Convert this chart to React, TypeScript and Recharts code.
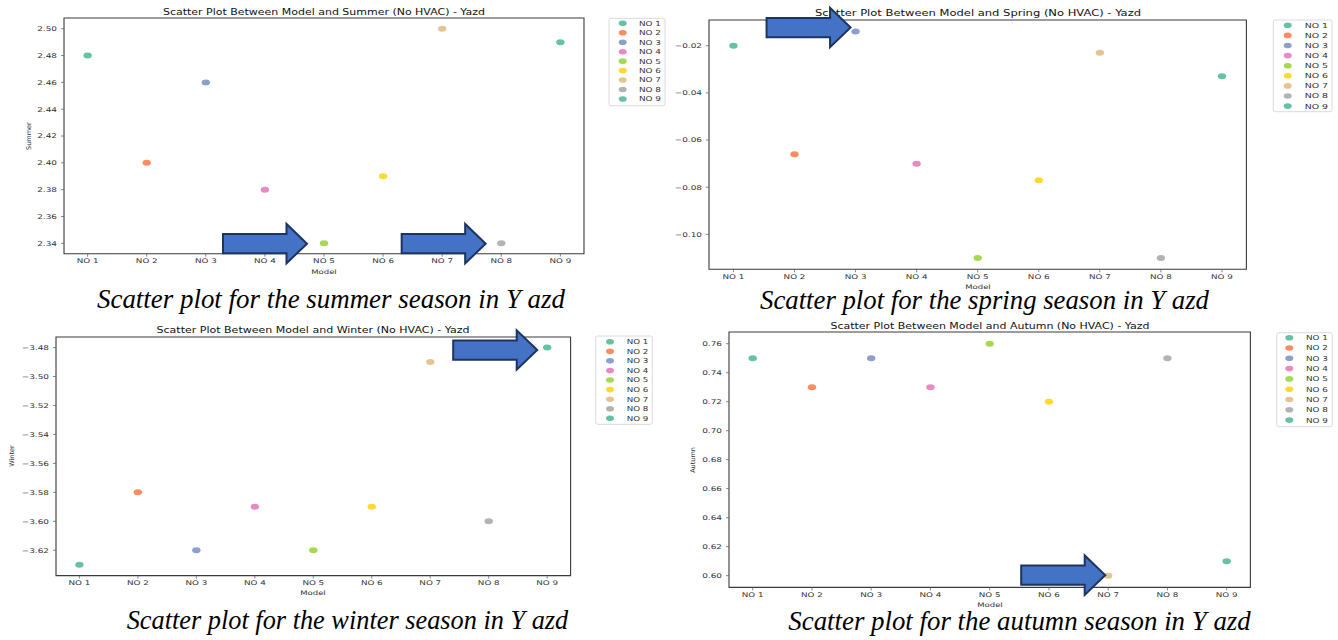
import React from 'react';
import { ScatterChart, Scatter, XAxis, YAxis, ReferenceArea, ReferenceDot } from 'recharts';

// ---------- data ----------
const models = ['NO 1', 'NO 2', 'NO 3', 'NO 4', 'NO 5', 'NO 6', 'NO 7', 'NO 8', 'NO 9'];
const modelIndex = [1, 2, 3, 4, 5, 6, 7, 8, 9];
const colors = ['#66c2a5', '#fc8d62', '#8da0cb', '#e78ac3', '#a6d854', '#ffd92f', '#e5c494', '#b3b3b3', '#66c2a5'];

const summer = [2.48, 2.40, 2.46, 2.38, 2.34, 2.39, 2.50, 2.34, 2.49];
const spring = [-0.020, -0.066, -0.014, -0.070, -0.110, -0.077, -0.023, -0.110, -0.033];
const winter = [-3.63, -3.58, -3.62, -3.59, -3.62, -3.59, -3.49, -3.60, -3.48];
const autumn = [0.75, 0.73, 0.75, 0.73, 0.76, 0.72, 0.60, 0.75, 0.61];

const summerTicks = [2.34, 2.36, 2.38, 2.40, 2.42, 2.44, 2.46, 2.48, 2.50];
const springTicks = [-0.10, -0.08, -0.06, -0.04, -0.02];
const winterTicks = [-3.62, -3.60, -3.58, -3.56, -3.54, -3.52, -3.50, -3.48];
const autumnTicks = [0.60, 0.62, 0.64, 0.66, 0.68, 0.70, 0.72, 0.74, 0.76];

const summerDomain = [2.3323, 2.508];
const springDomain = [-0.1148, -0.0091];
const winterDomain = [-3.6375, -3.4727];
const autumnDomain = [0.5919, 0.7681];

const summerArrows = [5, 8];
const springArrows = [3];
const winterArrows = [9];
const autumnArrows = [7];

// ---------- layout / style ----------
const FONT = 'DejaVu Sans, sans-serif';
const TXT = '#333';

type Layout = {
  L: number; R: number; T: number; B: number;
  yLabelOff: number | null;
  capX0: number; capX1: number; capBase: number;
  titleLen: number;
  leg: { x: number; y: number; w: number; h: number; step: number; first: number; mdx: number; tdx: number; tlen: number };
  arrowOff: { gap: number; dy: number }[];
};

const panels = [
  {
    key: 'summer', values: summer, ticks: summerTicks, domain: summerDomain, arrows: summerArrows,
    title: 'Scatter Plot Between Model and Summer (No HVAC) - Yazd', yLabel: 'Summer',
    caption: 'Scatter plot for the summer season in Y azd',
  },
  {
    key: 'spring', values: spring, ticks: springTicks, domain: springDomain, arrows: springArrows,
    title: 'Scatter Plot Between Model and Spring (No HVAC) - Yazd', yLabel: 'Spring',
    caption: 'Scatter plot for the spring season in Y azd',
  },
  {
    key: 'winter', values: winter, ticks: winterTicks, domain: winterDomain, arrows: winterArrows,
    title: 'Scatter Plot Between Model and Winter (No HVAC) - Yazd', yLabel: 'Winter',
    caption: 'Scatter plot for the winter season in Y azd',
  },
  {
    key: 'autumn', values: autumn, ticks: autumnTicks, domain: autumnDomain, arrows: autumnArrows,
    title: 'Scatter Plot Between Model and Autumn (No HVAC) - Yazd', yLabel: 'Autumn',
    caption: 'Scatter plot for the autumn season in Y azd',
  },
];

const layouts: Layout[] = [
  {
    L: 64, R: 584, T: 18.3, B: 254, yLabelOff: 35,
    capX0: 97, capX1: 565, capBase: 308, titleLen: 322,
    leg: { x: 609, y: 18.3, w: 56, h: 87.4, step: 9.46, first: 5, mdx: 13.7, tdx: 30, tlen: 22 },
    arrowOff: [{ gap: 17, dy: 0.3 }, { gap: 15.6, dy: 0.3 }],
  },
  {
    L: 709.3, R: 1246.7, T: 20, B: 269.3, yLabelOff: null,
    capX0: 760, capX1: 1209, capBase: 308.5, titleLen: 326,
    leg: { x: 1273.3, y: 20, w: 58.7, h: 91.7, step: 10.1, first: 5.3, mdx: 14.4, tdx: 31.4, tlen: 23.4 },
    arrowOff: [{ gap: 5, dy: -4 }],
  },
  {
    L: 55.7, R: 570.3, T: 336.7, B: 575.3, yLabelOff: 43.4,
    capX0: 126.7, capX1: 568.3, capBase: 629, titleLen: 313,
    leg: { x: 595.7, y: 336, w: 56.6, h: 88.3, step: 9.58, first: 5.7, mdx: 14.3, tdx: 31, tlen: 21.6 },
    arrowOff: [{ gap: 10, dy: 2.5 }],
  },
  {
    L: 729.3, R: 1250.7, T: 332.3, B: 587.7, yLabelOff: 36,
    capX0: 788.3, capX1: 1250.7, capBase: 629.5, titleLen: 319,
    leg: { x: 1276.7, y: 332.7, w: 55.6, h: 94, step: 10.3, first: 5, mdx: 12.6, tdx: 29.3, tlen: 22 },
    arrowOff: [{ gap: 3, dy: -0.5 }],
  },
];

const fmt = (v: number) => (v < 0 ? '\u2212' : '') + Math.abs(v).toFixed(2);

const XTick = (p: any) => (
  <text
    transform={`translate(${p.x},${p.y}) scale(1.37,1)`}
    textAnchor="middle"
    dy={5.8}
    fontSize={6.4}
    fontFamily={FONT}
    fill={TXT}
  >
    {models[p.payload.value - 1]}
  </text>
);

const YTick = (p: any) => (
  <text
    transform={`translate(${p.x},${p.y}) scale(1.37,1)`}
    textAnchor="end"
    dy={2.35}
    fontSize={6.5}
    fontFamily={FONT}
    fill={TXT}
  >
    {fmt(p.payload.value)}
  </text>
);

const Arrow = ({ cx, cy, gap, dy }: { cx: number; cy: number; gap: number; dy: number }) => {
  if (cx == null || cy == null) return null;
  const tx = cx - gap;
  const y = cy + dy;
  const len = 84, hl = 20.5, hh = 19.7, bh = 9.6;
  const pts = [
    [tx, y], [tx - hl, y - hh], [tx - hl, y - bh], [tx - len, y - bh],
    [tx - len, y + bh], [tx - hl, y + bh], [tx - hl, y + hh],
  ].map((q) => q.join(',')).join(' ');
  return <polygon points={pts} fill="#4472c4" stroke="#1c3461" strokeWidth={2} strokeLinejoin="miter" />;
};

function Chart({ panel, lay }: { panel: any; lay: Layout }) {
  const w = lay.R - lay.L;
  const h = lay.B - lay.T;
  return (
    <div style={{ position: 'absolute', left: lay.L - 70, top: lay.T - 20 }}>
      <ScatterChart width={w + 90} height={h + 60} margin={{ top: 20, right: 20, bottom: 0, left: 0 }}>
        <XAxis
          type="number"
          dataKey="x"
          domain={[0.6, 9.4]}
          ticks={modelIndex}
          interval={0}
          allowDataOverflow
          height={40}
          tickSize={3}
          tickMargin={1}
          axisLine={false}
          tickLine={{ stroke: '#666', strokeWidth: 0.8 }}
          tick={XTick}
        />
        <YAxis
          type="number"
          dataKey="y"
          domain={panel.domain}
          ticks={panel.ticks}
          interval={0}
          allowDataOverflow
          width={70}
          tickSize={3}
          tickMargin={4}
          axisLine={false}
          tickLine={{ stroke: '#666', strokeWidth: 0.8 }}
          tick={YTick}
        />
        <ReferenceArea
          x1={0.6}
          x2={9.4}
          y1={panel.domain[0]}
          y2={panel.domain[1]}
          fill="none"
          fillOpacity={0}
          stroke="#3a3a3a"
          strokeWidth={1.1}
          ifOverflow="visible"
        />
        {models.map((m, i) => (
          <Scatter
            key={m}
            name={m}
            data={[{ x: modelIndex[i], y: panel.values[i] }]}
            fill={colors[i]}
            isAnimationActive={false}
            shape={(p: any) => <ellipse cx={p.cx} cy={p.cy} rx={4.2} ry={3} fill={colors[i]} />}
          />
        ))}
        {panel.arrows.map((mi: number, k: number) => (
          <ReferenceDot
            key={'a' + k}
            x={mi}
            y={panel.values[mi - 1]}
            r={0}
            ifOverflow="visible"
            shape={(p: any) => <Arrow cx={p.cx} cy={p.cy} gap={lay.arrowOff[k].gap} dy={lay.arrowOff[k].dy} />}
          />
        ))}
      </ScatterChart>
    </div>
  );
}

function Texts() {
  return (
    <svg width={1338} height={640} style={{ position: 'absolute', left: 0, top: 0 }}>
      {panels.map((panel, pi) => {
        const lay = layouts[pi];
        const cx = (lay.L + lay.R) / 2;
        const cy = (lay.T + lay.B) / 2;
        const lg = lay.leg;
        return (
          <g key={panel.key}>
            <text
              x={cx}
              y={lay.T - 3.7}
              textAnchor="middle"
              fontSize={8.2}
              fontFamily={FONT}
              fill="#111"
              textLength={lay.titleLen}
              lengthAdjust="spacingAndGlyphs"
            >
              {panel.title}
            </text>
            <text
              transform={`translate(${cx},${lay.B + 19.5}) scale(1.37,1)`}
              textAnchor="middle"
              fontSize={6.2}
              fontFamily={FONT}
              fill={TXT}
            >
              Model
            </text>
            {lay.yLabelOff != null && (
              <text
                transform={`translate(${lay.L - lay.yLabelOff},${cy}) rotate(-90)`}
                textAnchor="middle"
                dominantBaseline="central"
                fontSize={6.5}
                fontFamily={FONT}
                fill={TXT}
              >
                {panel.yLabel}
              </text>
            )}
            <text
              x={(lay.capX0 + lay.capX1) / 2}
              y={lay.capBase}
              textAnchor="middle"
              fontSize={26.5}
              fontStyle="italic"
              fontFamily="Liberation Serif, Times New Roman, serif"
              fill="#000"
              textLength={lay.capX1 - lay.capX0}
              lengthAdjust="spacingAndGlyphs"
            >
              {panel.caption}
            </text>
            <rect x={lg.x} y={lg.y} width={lg.w} height={lg.h} rx={2} fill="#fff" stroke="#d6d6d6" strokeWidth={0.9} />
            {models.map((m, i) => (
              <g key={m}>
                <ellipse cx={lg.x + lg.mdx} cy={lg.y + lg.first + i * lg.step} rx={4} ry={2.8} fill={colors[i]} />
                <text
                  x={lg.x + lg.tdx}
                  y={lg.y + lg.first + i * lg.step + 2.4}
                  fontSize={6.8}
                  fontFamily={FONT}
                  fill={TXT}
                  textLength={lg.tlen}
                  lengthAdjust="spacingAndGlyphs"
                >
                  {m}
                </text>
              </g>
            ))}
          </g>
        );
      })}
    </svg>
  );
}

export default function App() {
  return (
    <div style={{ position: 'absolute', left: 0, top: 0, width: 1338, height: 640, background: '#fff', overflow: 'hidden' }}>
      <Texts />
      {panels.map((panel, pi) => (
        <Chart key={panel.key} panel={panel} lay={layouts[pi]} />
      ))}
    </div>
  );
}
